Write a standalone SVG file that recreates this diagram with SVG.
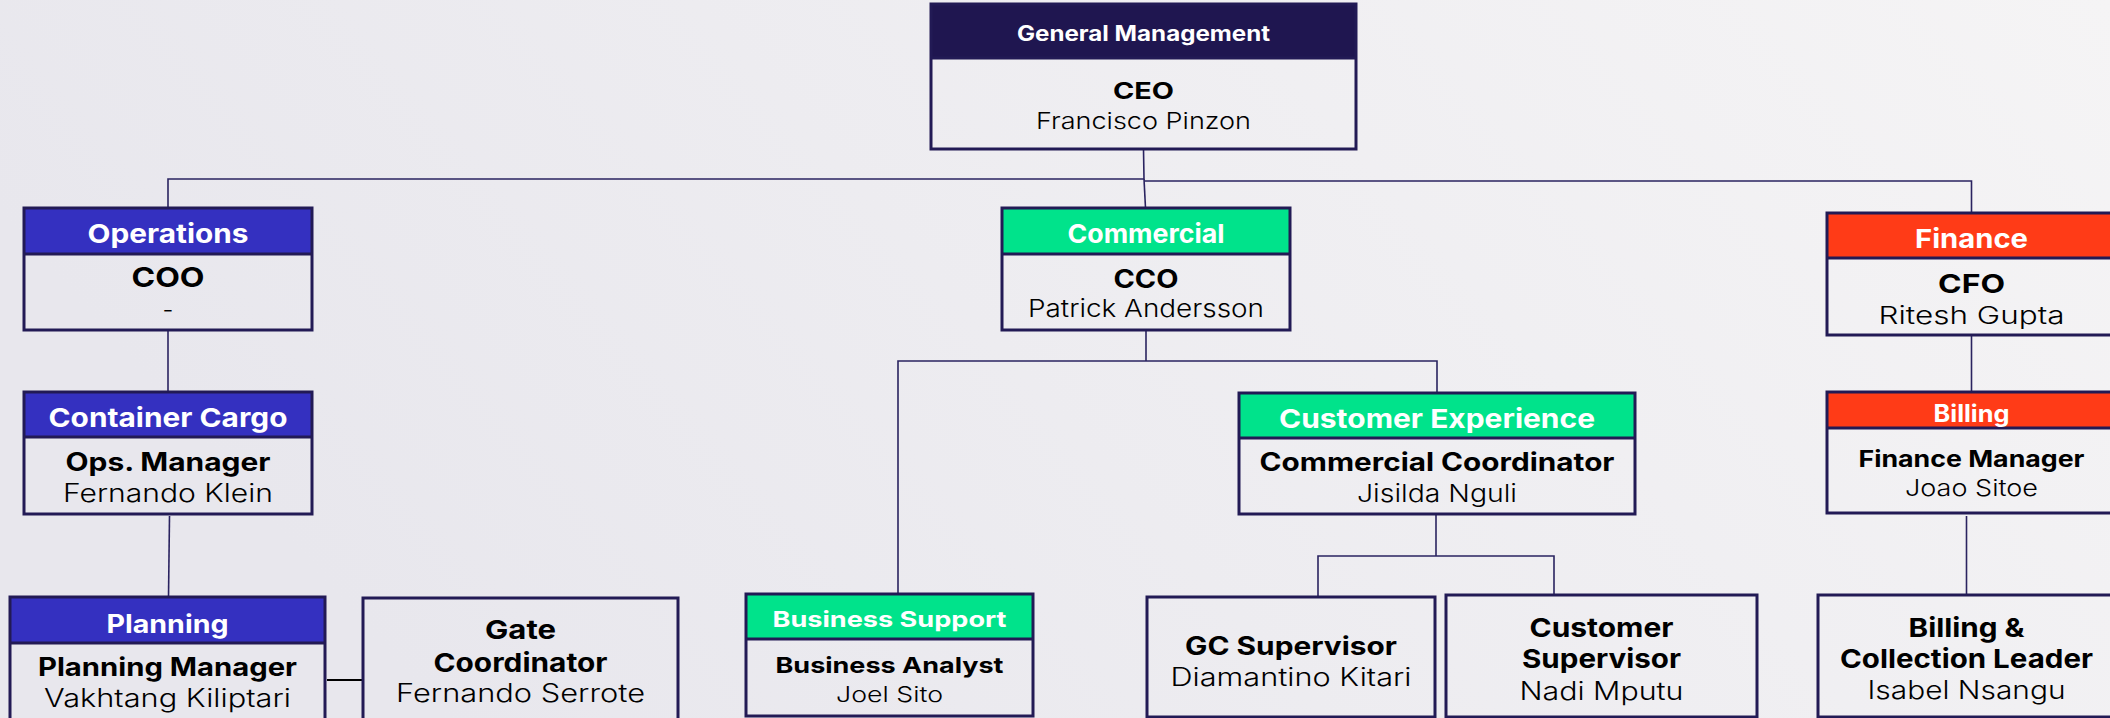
<svg xmlns="http://www.w3.org/2000/svg" width="2110" height="718" viewBox="0 0 2110 718">
<defs>
<linearGradient id="bg" x1="0" y1="0.3" x2="1" y2="0">
<stop offset="0" stop-color="#e8e7ed"/>
<stop offset="1" stop-color="#f5f4f5"/>
</linearGradient>
<style>
.box{fill:none;stroke:#221a55;stroke-width:3}
.sep{stroke:#221a55;stroke-width:3}
.gm{fill:#1f1650}
.ops{fill:#3430c0}
.com{fill:#00e38b}
.fin{fill:#ff3b17}
text{font-family:Inter,"Liberation Sans",sans-serif;text-anchor:middle}
.hd{font-weight:700;fill:#ffffff}
.tt{font-weight:700;fill:#000000}
.nm{font-weight:300;fill:#000000}
.cn{fill:none;stroke:#2a2360;stroke-width:1.6}
</style>
</defs>
<rect x="0" y="0" width="2110" height="718" fill="url(#bg)"/>

<g id="connectors">
<path class="cn" d="M1143.5,149 L1144,179 H168 V208"/>
<path class="cn" d="M1144,179 L1145.5,208"/>
<path class="cn" d="M1144,181 H1971.5 V213"/>
<path class="cn" d="M168,330 V392"/>
<path class="cn" d="M169.5,516 L168.5,597"/>
<path d="M327,680 H362" fill="none" stroke="#000" stroke-width="2.2"/>
<path class="cn" d="M1146,330 V361"/>
<path class="cn" d="M898,594 V361 H1437 V393"/>
<path class="cn" d="M1436,514 V556"/>
<path class="cn" d="M1318,597 V556 H1554 V595"/>
<path class="cn" d="M1971.5,335 V392"/>
<path class="cn" d="M1966.5,516 V595"/>
</g>

<g id="node-gm">
<rect class="gm" x="931" y="4" width="425" height="54"/>
<rect class="box" x="931" y="4" width="425" height="145"/>
<line class="sep" x1="931" y1="58" x2="1356" y2="58"/>
<text class="hd" x="1143.5" y="40.5" font-size="21" textLength="253" lengthAdjust="spacingAndGlyphs">General Management</text>
<text class="tt" x="1143.5" y="99" font-size="23" textLength="61" lengthAdjust="spacingAndGlyphs">CEO</text>
<text class="nm" x="1143.5" y="129" font-size="23" textLength="215" lengthAdjust="spacingAndGlyphs">Francisco Pinzon</text>
</g>

<g id="node-operations">
<rect class="ops" x="24" y="208" width="288" height="46"/>
<rect class="box" x="24" y="208" width="288" height="122"/>
<line class="sep" x1="24" y1="254" x2="312" y2="254"/>
<text class="hd" x="168" y="242.5" font-size="26" textLength="161" lengthAdjust="spacingAndGlyphs">Operations</text>
<text class="tt" x="168" y="287" font-size="27" textLength="73" lengthAdjust="spacingAndGlyphs">COO</text>
<text class="nm" x="168" y="318" font-size="24">-</text>
</g>

<g id="node-commercial">
<rect class="com" x="1002" y="208" width="288" height="46"/>
<rect class="box" x="1002" y="208" width="288" height="122"/>
<line class="sep" x1="1002" y1="254" x2="1290" y2="254"/>
<text class="hd" x="1146" y="242.5" font-size="26" textLength="157" lengthAdjust="spacingAndGlyphs">Commercial</text>
<text class="tt" x="1146" y="288" font-size="25" textLength="65" lengthAdjust="spacingAndGlyphs">CCO</text>
<text class="nm" x="1146" y="317" font-size="24" textLength="236" lengthAdjust="spacingAndGlyphs">Patrick Andersson</text>
</g>

<g id="node-finance">
<rect class="fin" x="1827" y="213" width="289" height="45"/>
<rect class="box" x="1827" y="213" width="289" height="122"/>
<line class="sep" x1="1827" y1="258" x2="2116" y2="258"/>
<text class="hd" x="1971.5" y="248" font-size="26" textLength="113" lengthAdjust="spacingAndGlyphs">Finance</text>
<text class="tt" x="1971.5" y="292.5" font-size="26" textLength="67" lengthAdjust="spacingAndGlyphs">CFO</text>
<text class="nm" x="1971.5" y="323.5" font-size="24" textLength="186" lengthAdjust="spacingAndGlyphs">Ritesh Gupta</text>
</g>

<g id="node-container-cargo">
<rect class="ops" x="24" y="392" width="288" height="45"/>
<rect class="box" x="24" y="392" width="288" height="122"/>
<line class="sep" x1="24" y1="437" x2="312" y2="437"/>
<text class="hd" x="168" y="426.5" font-size="26" textLength="239" lengthAdjust="spacingAndGlyphs">Container Cargo</text>
<text class="tt" x="168" y="471" font-size="25" textLength="205" lengthAdjust="spacingAndGlyphs">Ops. Manager</text>
<text class="nm" x="168" y="502" font-size="25" textLength="210" lengthAdjust="spacingAndGlyphs">Fernando Klein</text>
</g>

<g id="node-planning">
<rect class="ops" x="10" y="597" width="315" height="46"/>
<rect class="box" x="10" y="597" width="315" height="135"/>
<line class="sep" x1="10" y1="643" x2="325" y2="643"/>
<text class="hd" x="167.5" y="632.5" font-size="25" textLength="122" lengthAdjust="spacingAndGlyphs">Planning</text>
<text class="tt" x="167.5" y="676" font-size="25" textLength="259" lengthAdjust="spacingAndGlyphs">Planning Manager</text>
<text class="nm" x="167.5" y="707" font-size="25" textLength="247" lengthAdjust="spacingAndGlyphs">Vakhtang Kiliptari</text>
</g>

<g id="node-gate">
<rect class="box" x="363" y="598" width="315" height="135"/>
<text class="tt" x="520.5" y="638.5" font-size="26" textLength="71" lengthAdjust="spacingAndGlyphs">Gate</text>
<text class="tt" x="520.5" y="671.5" font-size="26" textLength="174" lengthAdjust="spacingAndGlyphs">Coordinator</text>
<text class="nm" x="520.5" y="702" font-size="25" textLength="249" lengthAdjust="spacingAndGlyphs">Fernando Serrote</text>
</g>

<g id="node-business-support">
<rect class="com" x="746" y="594" width="287" height="45"/>
<rect class="box" x="746" y="594" width="287" height="122"/>
<line class="sep" x1="746" y1="639" x2="1033" y2="639"/>
<text class="hd" x="889.5" y="627" font-size="22" textLength="234" lengthAdjust="spacingAndGlyphs">Business Support</text>
<text class="tt" x="889.5" y="673" font-size="22" textLength="228" lengthAdjust="spacingAndGlyphs">Business Analyst</text>
<text class="nm" x="889.5" y="702" font-size="22" textLength="107" lengthAdjust="spacingAndGlyphs">Joel Sito</text>
</g>

<g id="node-customer-experience">
<rect class="com" x="1239" y="393" width="396" height="45"/>
<rect class="box" x="1239" y="393" width="396" height="121"/>
<line class="sep" x1="1239" y1="438" x2="1635" y2="438"/>
<text class="hd" x="1437" y="427.5" font-size="26" textLength="316" lengthAdjust="spacingAndGlyphs">Customer Experience</text>
<text class="tt" x="1437" y="471" font-size="25" textLength="355" lengthAdjust="spacingAndGlyphs">Commercial Coordinator</text>
<text class="nm" x="1437" y="502" font-size="24" textLength="160" lengthAdjust="spacingAndGlyphs">Jisilda Nguli</text>
</g>

<g id="node-gc-supervisor">
<rect class="box" x="1147" y="597" width="288" height="120"/>
<text class="tt" x="1291" y="654.5" font-size="25" textLength="212" lengthAdjust="spacingAndGlyphs">GC Supervisor</text>
<text class="nm" x="1291" y="686" font-size="25" textLength="241" lengthAdjust="spacingAndGlyphs">Diamantino Kitari</text>
</g>

<g id="node-customer-supervisor">
<rect class="box" x="1446" y="595" width="311" height="122"/>
<text class="tt" x="1601.5" y="636.5" font-size="26" textLength="144" lengthAdjust="spacingAndGlyphs">Customer</text>
<text class="tt" x="1601.5" y="667.5" font-size="26" textLength="159" lengthAdjust="spacingAndGlyphs">Supervisor</text>
<text class="nm" x="1601.5" y="700" font-size="25" textLength="164" lengthAdjust="spacingAndGlyphs">Nadi Mputu</text>
</g>

<g id="node-billing">
<rect class="fin" x="1827" y="392" width="289" height="36"/>
<rect class="box" x="1827" y="392" width="289" height="121"/>
<line class="sep" x1="1827" y1="428" x2="2116" y2="428"/>
<text class="hd" x="1971.5" y="421.5" font-size="24" textLength="76" lengthAdjust="spacingAndGlyphs">Billing</text>
<text class="tt" x="1971.5" y="467" font-size="23" textLength="226" lengthAdjust="spacingAndGlyphs">Finance Manager</text>
<text class="nm" x="1971.5" y="496" font-size="23" textLength="133" lengthAdjust="spacingAndGlyphs">Joao Sitoe</text>
</g>

<g id="node-billing-collection">
<rect class="box" x="1818" y="595" width="300" height="122"/>
<text class="tt" x="1966.5" y="636.5" font-size="26" textLength="116" lengthAdjust="spacingAndGlyphs">Billing &amp;</text>
<text class="tt" x="1966.5" y="667.5" font-size="26" textLength="253" lengthAdjust="spacingAndGlyphs">Collection Leader</text>
<text class="nm" x="1966.5" y="699" font-size="25" textLength="198" lengthAdjust="spacingAndGlyphs">Isabel Nsangu</text>
</g>
</svg>
